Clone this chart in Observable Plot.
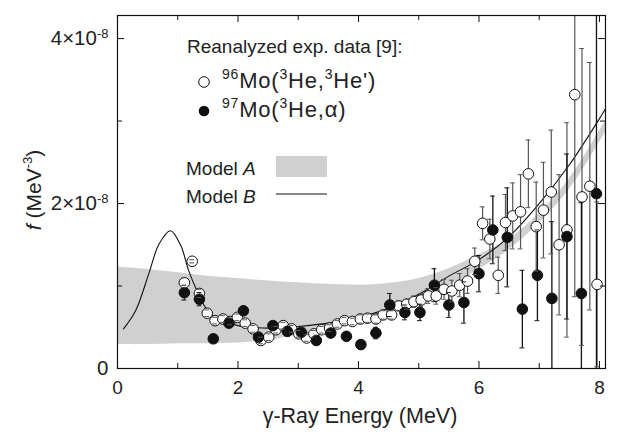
<!DOCTYPE html>
<html><head><meta charset="utf-8">
<script src="https://cdn.jsdelivr.net/npm/d3@7"></script>
<script src="https://cdn.jsdelivr.net/npm/@observablehq/plot@0.6"></script>
<style>body{margin:0;background:#fff}</style>
</head><body><div id="chart"></div>
<script>
// gamma-ray energy in MeV; f in units of 1e-8 MeV^-3
const openE   = [1.11,1.24,1.36,1.49,1.62,1.75,1.87,1.99,2.12,2.25,2.38,2.51,2.63,2.75,2.89,3.01,3.14,3.26,3.39,3.52,3.65,3.77,3.90,4.03,4.15,4.29,4.41,4.55,4.67,4.80,4.92,5.04,5.16,5.29,5.42,5.55,5.68,5.81,5.93,6.06,6.18,6.32,6.44,6.56,6.69,6.82,6.95,7.07,7.20,7.33,7.46,7.59,7.71,7.84,7.96];
const openF   = [1.04,1.30,0.91,0.67,0.58,0.60,0.57,0.62,0.55,0.48,0.34,0.38,0.47,0.52,0.48,0.42,0.37,0.42,0.47,0.49,0.54,0.58,0.57,0.60,0.61,0.60,0.65,0.65,0.76,0.78,0.81,0.83,0.88,0.88,0.96,0.94,1.01,1.06,1.30,1.76,1.57,1.13,1.77,1.85,1.90,2.36,1.72,1.92,2.14,1.50,1.68,3.32,2.08,2.21,1.02];
const openErr = [0.06,0.02,0.05,0.04,0.04,0.04,0.04,0.04,0.04,0.04,0.04,0.04,0.04,0.04,0.04,0.04,0.04,0.04,0.04,0.04,0.04,0.04,0.04,0.05,0.05,0.05,0.05,0.05,0.06,0.06,0.07,0.08,0.09,0.10,0.12,0.13,0.14,0.15,0.16,0.20,0.24,0.22,0.34,0.40,0.45,0.41,0.54,0.58,0.75,0.85,1.30,2.45,1.80,1.50,1.00];

const fillE   = [1.11,1.36,1.59,1.85,2.09,2.34,2.58,2.82,3.05,3.30,3.54,3.80,4.04,4.29,4.52,4.77,5.02,5.26,5.50,5.75,6.00,6.23,6.47,6.72,6.97,7.21,7.46,7.70,7.95];
const fillF   = [0.92,0.84,0.36,0.55,0.70,0.38,0.52,0.45,0.44,0.34,0.43,0.39,0.29,0.43,0.77,0.68,0.68,1.01,0.77,0.80,1.15,1.68,1.59,0.72,1.13,0.85,1.60,0.91,2.12];
const fillErr = [0.09,0.08,0.04,0.05,0.04,0.04,0.05,0.04,0.04,0.04,0.04,0.04,0.05,0.07,0.14,0.09,0.10,0.20,0.15,0.25,0.22,0.41,0.60,0.47,0.55,0.93,1.00,1.10,2.20];

// Model A band (lower / upper edge) and Model B curve
const bandE  = [0,0.5,1,1.5,2,2.5,3,3.5,4,4.5,5,5.5,6,6.5,7,7.5,8,8.1];
const bandHi = [1.23,1.20,1.16,1.12,1.09,1.06,1.04,1.02,1.01,1.03,1.09,1.21,1.38,1.57,1.88,2.30,2.88,3.00];
const bandLo = [0.29,0.29,0.30,0.30,0.31,0.34,0.41,0.50,0.58,0.67,0.80,1.00,1.20,1.44,1.76,2.17,2.74,2.86];

const modelBE = [0.10,0.30,0.52,0.69,0.88,1.05,1.18,1.32,1.46,1.62,1.79,2.0,2.2,2.6,3.0,3.5,4.0,4.5,5.0,5.5,6.0,6.5,7.0,7.5,8.0,8.1];
const modelBF = [0.48,0.70,1.15,1.51,1.67,1.49,1.19,0.94,0.74,0.61,0.56,0.52,0.50,0.49,0.51,0.55,0.62,0.73,0.90,1.12,1.32,1.60,2.00,2.47,3.03,3.15];

const xTicksMajor = [0,2,4,6,8];
const xTicksMinor = [1,3,5,7];
const yTicksMajor = [0,2,4];
const yTicksMinor = [1,3];

const openData = openE.map((e,i)=>({e, f:openF[i], err:openErr[i]}));
const fillData = fillE.map((e,i)=>({e, f:fillF[i], err:fillErr[i]}));
const band = bandE.map((e,i)=>({e, lo:bandLo[i], hi:bandHi[i]}));
const modelB = modelBE.map((e,i)=>({e, f:modelBF[i]}));
const caps = d => d.flatMap(p => [{e:p.e, y:p.f-p.err}, {e:p.e, y:p.f+p.err}]);

const W=631, H=432, mL=117, mR=26, mT=15, mB=64;
const plotH = H-mT-mB, plotW = W-mL-mR;
const capHalf = 0.04;
const ink = "#111";

const plot = Plot.plot({
  width: W, height: H, marginLeft: mL, marginRight: mR, marginTop: mT, marginBottom: mB,
  x: {domain:[0,8.1]},
  y: {domain:[0,4.28]},
  style: {fontFamily:"'Liberation Sans', Arial, sans-serif", fontSize:"19px", color:"#222", background:"white"},
  marks: [
    Plot.areaY(band, {x:"e", y1:"lo", y2:"hi", fill:"#d0d0d0", curve:"catmull-rom"}),
    Plot.line(modelB, {x:"e", y:"f", stroke:ink, strokeWidth:1.1, curve:"catmull-rom"}),
    Plot.ruleX(openData, {x:"e", y1:d=>d.f-d.err, y2:d=>d.f+d.err, stroke:"#555", strokeWidth:1.2, clip:true}),
    Plot.ruleX(fillData, {x:"e", y1:d=>d.f-d.err, y2:d=>d.f+d.err, stroke:ink, strokeWidth:1.3, clip:true}),
    Plot.dot(openData, {x:"e", y:"f", r:5.3, fill:"white", stroke:ink, strokeWidth:1}),
    Plot.dot(fillData, {x:"e", y:"f", r:5.3, fill:ink, stroke:ink, strokeWidth:1}),
    Plot.ruleY(caps(openData), {y:"y", x1:d=>d.e-capHalf, x2:d=>d.e+capHalf, stroke:"#555", strokeWidth:1, clip:true}),
    Plot.ruleY(caps(fillData), {y:"y", x1:d=>d.e-capHalf, x2:d=>d.e+capHalf, stroke:ink, strokeWidth:1, clip:true}),
    // inward ticks on all four sides
    Plot.tickX(xTicksMajor, {x:d=>d, insetTop:plotH-7, stroke:ink}),
    Plot.tickX(xTicksMinor, {x:d=>d, insetTop:plotH-5, stroke:ink}),
    Plot.tickX(xTicksMajor, {x:d=>d, insetBottom:plotH-7, stroke:ink}),
    Plot.tickX(xTicksMinor, {x:d=>d, insetBottom:plotH-5, stroke:ink}),
    Plot.tickY(yTicksMajor, {y:d=>d, insetRight:plotW-7, stroke:ink}),
    Plot.tickY(yTicksMinor, {y:d=>d, insetRight:plotW-5, stroke:ink}),
    Plot.tickY(yTicksMajor, {y:d=>d, insetLeft:plotW-7, stroke:ink}),
    Plot.tickY(yTicksMinor, {y:d=>d, insetLeft:plotW-5, stroke:ink}),
    Plot.frame({stroke:ink, strokeWidth:1.2}),
    Plot.axisX({ticks:xTicksMajor, tickSize:0, tickPadding:12, label:null}),
    Plot.axisY({ticks:yTicksMajor, tickSize:0, tickPadding:9, label:null, tickFormat:d=>d===0?"0":`${d}×10`})
  ]
});
document.getElementById("chart").appendChild(plot);

const svg = d3.select(plot);
// y tick labels: larger text and superscript exponent
svg.selectAll('g[aria-label="y-axis tick label"] text').each(function(){
  const t = d3.select(this).attr("font-size","20.5px");
  if (t.text() !== "0") t.append("tspan").attr("dy","-0.55em").attr("font-size","13px").text("-8");
});

function rich(g, x, y, parts, size, anchor="start", supScale=0.62) {
  const t = g.append("text").attr("x",x).attr("y",y).attr("font-size",size+"px")
    .attr("fill","#222").attr("text-anchor",anchor);
  let shifted = 0;
  for (const [s, k] of parts) {
    const sp = t.append("tspan").text(s);
    if (k === "sup") {
      sp.attr("font-size", Math.round(size*supScale)+"px").attr("dy", (-0.42*size - shifted)+"px");
      shifted = -0.42*size;
    } else {
      if (shifted) { sp.attr("dy", (-shifted)+"px"); shifted = 0; }
      if (k === "it") sp.attr("font-style","italic");
    }
  }
  return t;
}

const lg = svg.append("g").attr("font-family","'Liberation Sans', Arial, sans-serif");
rich(lg, 187, 53, [["Reanalyzed exp. data [9]:"]], 19);
lg.append("circle").attr("cx",204).attr("cy",82).attr("r",5.3).attr("fill","white").attr("stroke",ink);
rich(lg, 222, 88, [["96","sup"],["Mo("],["3","sup"],["He,"],["3","sup"],["He')"]], 22, "start", 0.62)
  .attr("letter-spacing","0.8px");
lg.append("circle").attr("cx",204).attr("cy",111).attr("r",5.3).attr("fill",ink);
rich(lg, 222, 117, [["97","sup"],["Mo("],["3","sup"],["He,α)"]], 22, "start", 0.62)
  .attr("letter-spacing","0.8px");
rich(lg, 186, 175, [["Model "],["A","it"]], 19);
lg.append("rect").attr("x",276).attr("y",156).attr("width",51).attr("height",21).attr("fill","#d0d0d0");
rich(lg, 186, 203, [["Model "],["B","it"]], 19);
lg.append("line").attr("x1",276).attr("x2",327).attr("y1",194).attr("y2",194).attr("stroke",ink).attr("stroke-width",1.1);

// axis titles
rich(lg, 360, 423, [["γ-Ray Energy (MeV)"]], 21.5, "middle");
rich(lg, 0, 0, [["f","it"],[" (MeV"],["-3","sup"],[")"]], 21, "middle")
  .attr("transform","translate(41,190) rotate(-90)");
</script>
</body></html>
